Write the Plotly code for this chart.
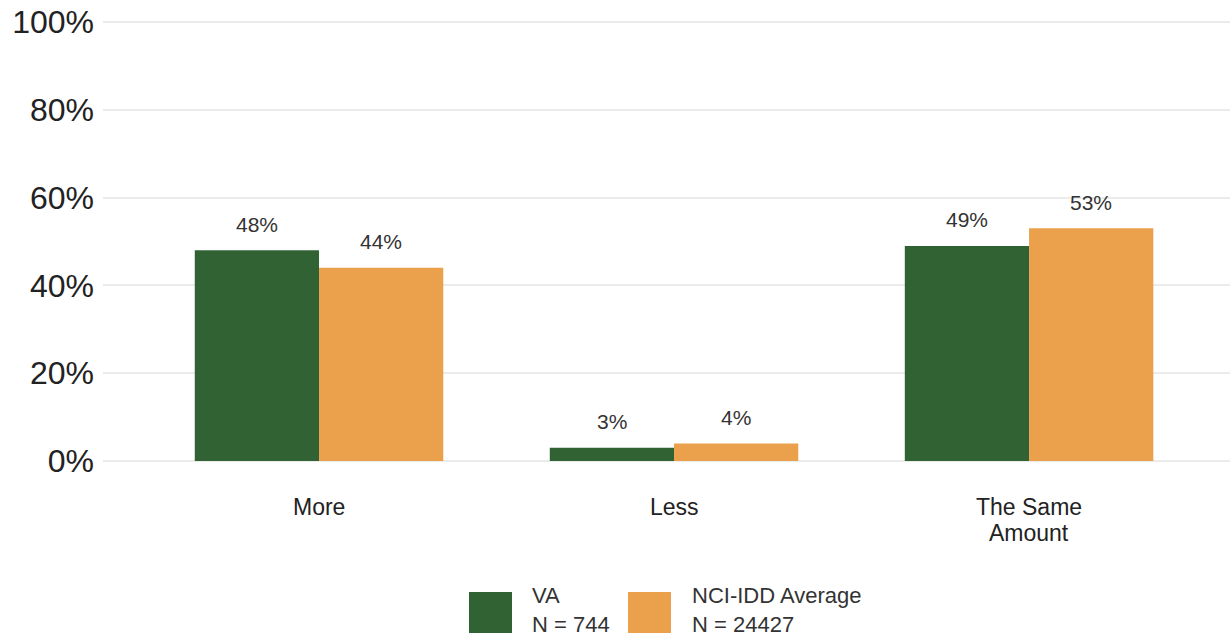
import plotly.graph_objects as go

categories = ["More", "Less", "The Same Amount"]
category_lines = [["More"], ["Less"], ["The Same", "Amount"]]
series_names = ["VA", "NCI-IDD Average"]
series_n = ["N = 744", "N = 24427"]
va_values = [48, 3, 49]
nci_values = [44, 4, 53]
colors = ["#316234", "#EBA04C"]
y_ticks = [0, 20, 40, 60, 80, 100]

FONT = "Liberation Sans, Arial, sans-serif"
W, H = 1230, 641
ML, MR, MT = 103, 0, 20
ph = 441
MB = H - MT - ph
pw = W - ML - MR
px_per_unit = 439 / 100.0
y_top = ph / px_per_unit

fig = go.Figure()
for name, vals, col in zip(series_names, [va_values, nci_values], colors):
    fig.add_trace(go.Bar(x=categories, y=vals, name=name, marker_color=col,
                         marker_line_width=0, showlegend=False))

# value labels
bar_px = 0.35 * 355
for i, vals in enumerate([va_values, nci_values]):
    sh = (-0.5 if i == 0 else 0.5) * bar_px
    for c, v in zip(categories, vals):
        fig.add_annotation(x=c, y=v, text=f"{v}%", showarrow=False,
                           xshift=sh, yshift=26, yanchor="middle",
                           font=dict(family=FONT, size=21, color="#333333"))

# category labels (tight line spacing)
for c, lines in zip(categories, category_lines):
    for j, line in enumerate(lines):
        fig.add_annotation(x=c, y=0, text=line, showarrow=False, yanchor="middle",
                           yshift=-46 - 26 * j,
                           font=dict(family=FONT, size=23, color="#222222"))

# manual legend
def px2paper(x, y):
    return (x - ML) / pw, (MT + ph - y) / ph

sw_left = [469, 628]
txt_left = [530, 690]
for i in range(2):
    x0, y0 = px2paper(sw_left[i], 633)
    x1, y1 = px2paper(sw_left[i] + 43, 592)
    fig.add_shape(type="rect", xref="paper", yref="paper", x0=x0, x1=x1, y0=y0, y1=y1,
                  fillcolor=colors[i], line_width=0)
    tx, ty = px2paper(txt_left[i], 610)
    fig.add_annotation(xref="paper", yref="paper", x=tx, y=ty,
                       text=f"{series_names[i]}<br>{series_n[i]}", align="left",
                       showarrow=False, xanchor="left", yanchor="middle",
                       font=dict(family=FONT, size=22, color="#333333"))

fig.update_layout(
    width=W, height=H,
    margin=dict(l=ML, r=MR, t=MT, b=MB, pad=0, autoexpand=False),
    paper_bgcolor="white", plot_bgcolor="white",
    barmode="group", bargap=0.3, bargroupgap=0,
    font=dict(family=FONT, color="#333333"),
    showlegend=False,
)
fig.update_xaxes(range=[-0.6085, 2.566], showgrid=False, showline=False,
                 ticks="", showticklabels=False, automargin=False)
fig.update_yaxes(range=[0, y_top], tickvals=y_ticks, ticktext=[f"{t}%" for t in y_ticks],
                 showgrid=True, gridcolor="#EBEBEB", gridwidth=1.5,
                 zeroline=True, zerolinecolor="#EBEBEB", zerolinewidth=1.5,
                 showline=False, ticks="", ticklabeloverflow="allow", automargin=False,
                 tickfont=dict(family=FONT, size=32, color="#222222"),
                 ticklabelstandoff=8)

fig.write_html("out.html", config={"displayModeBar": False},
               post_script="document.body.style.margin='0';")
